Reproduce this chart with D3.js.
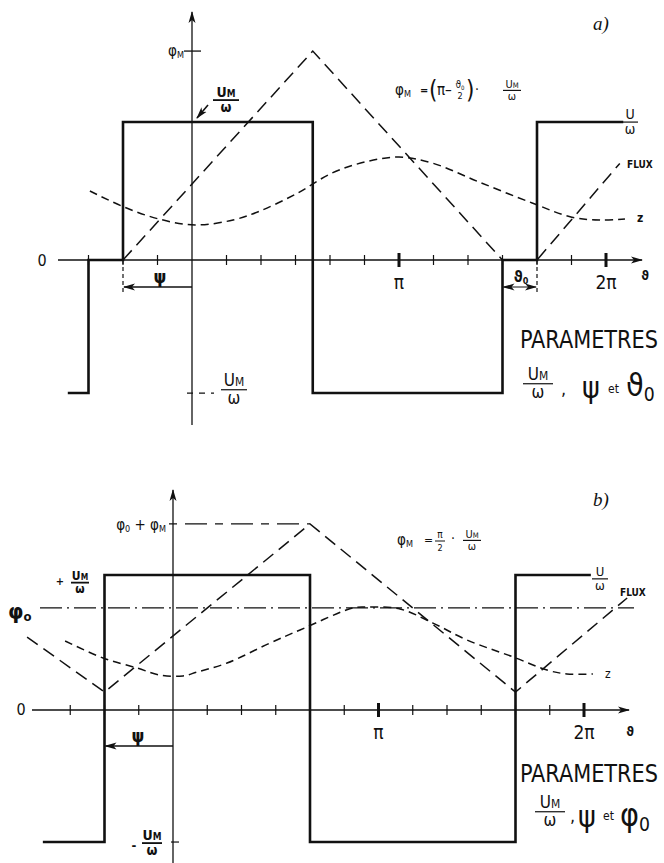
<!DOCTYPE html>
<html>
<head>
<meta charset="utf-8">
<script src="https://cdn.jsdelivr.net/npm/d3@7"></script>
<style>
  body { margin: 0; background: #fff; }
  text { font-family: "DejaVu Sans Condensed", "DejaVu Sans", sans-serif; fill: #111; }
  .serif { font-family: "Liberation Serif", serif; font-style: italic; }
</style>
</head>
<body>
<svg id="chart" width="664" height="863"></svg>
<script>
// theta is counted in steps of pi/6, values in units of Um/omega

// panel a)
var ticksA = [-3, -2, -1, 1, 2, 3, 4, 5, 6, 7, 8, 9, 10, 11, 12];
var bigTicks = [6, 12];
var bigTickLabels = ["π", "2π"];
var squareA = [[-3.6, -0.964], [-3, -0.964], [-3, 0], [-2, 0], [-2, 1], [3.5, 1], [3.5, -0.964],
               [9, -0.964], [9, 0], [10, 0], [10, 1], [12.5, 1]];
var fluxA = [[-2, 0], [3.5, 1.514], [9, 0], [10, 0], [12.4, 0.70]];
var zA = [[-2.96, 0.50], [-1.97, 0.384], [-0.96, 0.297], [0.09, 0.254], [1.19, 0.29], [1.97, 0.355],
          [3.01, 0.478], [4.06, 0.63], [5.01, 0.71], [6.0, 0.746], [6.96, 0.703], [8.32, 0.565],
          [9.86, 0.413], [11.01, 0.31], [11.83, 0.29], [12.55, 0.297]];
var phiMA = 1.514, lowA = -0.964;
var psiA = -2, theta0A = [9, 10];

// panel b)
var ticksB = [-3, -2, -1, 1, 2, 3, 4, 5, 6, 7, 8, 9, 10, 11, 12];
var squareB = [[-3.8, -0.978], [-2, -0.978], [-2, 1], [4, 1], [4, -0.978], [10, -0.978], [10, 1], [12.2, 1]];
var fluxB = [[-4.26, 0.54], [-2, 0.133], [4, 1.378], [10, 0.133], [13.26, 0.83]];
var zB = [[-3.15, 0.511], [-2.04, 0.385], [-1.05, 0.311], [-0.38, 0.259], [0.29, 0.252], [0.70, 0.281],
          [1.58, 0.348], [2.83, 0.496], [3.71, 0.593], [5.26, 0.756], [5.66, 0.763], [6.63, 0.748],
          [7.59, 0.644], [8.58, 0.519], [9.93, 0.393], [10.92, 0.296], [11.5, 0.267], [12.26, 0.267]];
var phi0B = 0.756, phiMaxB = 1.378, lowB = -0.978;
var psiB = -2;

var svg = d3.select("#chart");
var ink = "#111";

var defs = svg.append("defs");
defs.append("marker").attr("id", "head")
    .attr("viewBox", "0 0 12 8").attr("refX", 11).attr("refY", 4)
    .attr("markerWidth", 12).attr("markerHeight", 8).attr("markerUnits", "userSpaceOnUse")
    .attr("orient", "auto-start-reverse")
    .append("path").attr("d", "M0,0.5 L12,4 L0,7.5 L3,4 Z").attr("fill", ink);

function line(g, pts, x, y, width, dash) {
  var gen = d3.line().x(function(d) { return x(d[0]); }).y(function(d) { return y(d[1]); });
  return g.append("path").datum(pts).attr("d", gen)
      .attr("fill", "none").attr("stroke", ink).attr("stroke-width", width)
      .attr("stroke-linejoin", "miter").attr("stroke-dasharray", dash || null);
}

function curve(g, pts, x, y, dash) {
  var gen = d3.line().curve(d3.curveCatmullRom.alpha(0.5))
      .x(function(d) { return x(d[0]); }).y(function(d) { return y(d[1]); });
  return g.append("path").datum(pts).attr("d", gen)
      .attr("fill", "none").attr("stroke", ink).attr("stroke-width", 1.5)
      .attr("stroke-dasharray", dash);
}

function txt(g, x, y, s, size, opts) {
  opts = opts || {};
  var t = g.append("text").attr("x", x).attr("y", y)
      .attr("font-size", size).attr("text-anchor", opts.anchor || "start")
      .attr("font-weight", opts.bold ? "bold" : null).text(s);
  if (opts.cls) t.attr("class", opts.cls);
  return t;
}

// letter with a small subscript (phi_M, theta_0 ...)
function sub(g, x, y, main, small, size, opts) {
  opts = opts || {};
  var t = g.append("text").attr("x", x).attr("y", y).attr("font-size", size)
      .attr("text-anchor", opts.anchor || "start")
      .attr("font-weight", opts.bold ? "bold" : null);
  t.append("tspan").text(main);
  t.append("tspan").attr("font-size", size * 0.6).attr("dy", size * 0.15).text(small);
  return t;
}

// stacked fraction, cx = centre
function frac(g, cx, y, size, numMain, numSmall, den, opts) {
  opts = opts || {};
  var n = g.append("text").attr("x", cx).attr("y", y).attr("font-size", size)
      .attr("text-anchor", "middle").attr("font-weight", opts.bold ? "bold" : null);
  n.append("tspan").text(numMain);
  if (numSmall) n.append("tspan").attr("font-size", size * 0.7).text(numSmall);
  var w = opts.w || size * 1.4;
  g.append("line").attr("x1", cx - w / 2).attr("x2", cx + w / 2)
      .attr("y1", y + size * 0.22).attr("y2", y + size * 0.22)
      .attr("stroke", ink).attr("stroke-width", opts.bold ? 1.8 : 1.2);
  txt(g, cx, y + size * 1.05, den, size, { anchor: "middle", bold: opts.bold });
}

function axes(g, x, y, ticks, xStart, xEnd, yTop, yBottom) {
  // theta axis
  g.append("line").attr("x1", xStart).attr("x2", xEnd).attr("y1", y(0)).attr("y2", y(0))
      .attr("stroke", ink).attr("stroke-width", 1.3).attr("marker-end", "url(#head)");
  g.selectAll(".tick").data(ticks).enter().append("line")
      .attr("x1", function(d) { return x(d); }).attr("x2", function(d) { return x(d); })
      .attr("y1", function(d) { return y(0) - (bigTicks.indexOf(d) >= 0 ? 7 : 5); })
      .attr("y2", function(d) { return y(0) + (bigTicks.indexOf(d) >= 0 ? 7 : 5); })
      .attr("stroke", ink).attr("stroke-width", function(d) { return bigTicks.indexOf(d) >= 0 ? 3 : 1.2; });
  bigTicks.forEach(function(d, i) {
    txt(g, x(d), y(0) + 29, bigTickLabels[i], 19, { anchor: "middle" });
  });
  // vertical axis
  g.append("line").attr("x1", x(0)).attr("x2", x(0)).attr("y1", yBottom).attr("y2", yTop)
      .attr("stroke", ink).attr("stroke-width", 1.3).attr("marker-end", "url(#head)");
}

// ---------------- panel a ----------------
var xA = d3.scaleLinear().domain([0, 12]).range([192, 606]);
var yA = d3.scaleLinear().domain([0, 1]).range([260, 122]);
var gA = svg.append("g");

axes(gA, xA, yA, ticksA, 58, 642, 12, 425);
txt(gA, 42, 266, "0", 16, { anchor: "middle" });
txt(gA, 645, 280, "ϑ", 13, { anchor: "middle", bold: true });

line(gA, squareA, xA, yA, 2.6);
line(gA, fluxA, xA, yA, 1.5, "13,7");
curve(gA, zA, xA, yA, "8,5");

// phi_M tick
gA.append("line").attr("x1", xA(0) - 8).attr("x2", xA(0) + 9)
    .attr("y1", yA(phiMA)).attr("y2", yA(phiMA)).attr("stroke", ink).attr("stroke-width", 1.3);
sub(gA, 184, yA(phiMA) + 5, "φ", "M", 15, { anchor: "end" });

// Um/omega with arrow
frac(gA, 226, 97, 14, "U", "M", "ω", { bold: true, w: 26 });
gA.append("line").attr("x1", 208).attr("y1", 105).attr("x2", 197).attr("y2", 118)
    .attr("stroke", ink).attr("stroke-width", 1.6).attr("marker-end", "url(#head)");

// -Um/omega
gA.append("line").attr("x1", 187).attr("x2", 214).attr("y1", yA(lowA)).attr("y2", yA(lowA))
    .attr("stroke", ink).attr("stroke-width", 1.2).attr("stroke-dasharray", "6,6");
frac(gA, 234, 386, 17, "U", "M", "ω", { w: 26 });

// psi marker
gA.append("line").attr("x1", xA(psiA)).attr("x2", xA(psiA)).attr("y1", yA(0)).attr("y2", yA(0) + 33)
    .attr("stroke", ink).attr("stroke-width", 1.2).attr("stroke-dasharray", "4,3");
gA.append("line").attr("x1", xA(0)).attr("x2", xA(psiA) + 1).attr("y1", 287).attr("y2", 287)
    .attr("stroke", ink).attr("stroke-width", 1.3).attr("marker-end", "url(#head)");
txt(gA, 160, 283, "ψ", 18, { anchor: "middle", bold: true });

// theta_0 marker
gA.append("line").attr("x1", xA(theta0A[1])).attr("x2", xA(theta0A[1])).attr("y1", yA(0)).attr("y2", yA(0) + 33)
    .attr("stroke", ink).attr("stroke-width", 1.2).attr("stroke-dasharray", "4,3");
gA.append("line").attr("x1", xA(theta0A[0]) + 1).attr("x2", xA(theta0A[1]) - 1).attr("y1", 287).attr("y2", 287)
    .attr("stroke", ink).attr("stroke-width", 1.2)
    .attr("marker-start", "url(#head)").attr("marker-end", "url(#head)");
sub(gA, 521, 282, "ϑ", "0", 15, { anchor: "middle", bold: true });

txt(gA, 593, 30, "a)", 19, { cls: "serif" });

// formula a
sub(gA, 395, 95, "φ", "M", 15);
txt(gA, 420, 94, "=", 11, { bold: true });
txt(gA, 429, 98, "(", 24);
txt(gA, 437, 95, "π–", 15);
sub(gA, 460, 88, "ϑ", "0", 10, { anchor: "middle" });
txt(gA, 460, 99, "2", 9, { anchor: "middle" });
txt(gA, 466, 98, ")", 24);
txt(gA, 475, 94, "·", 14);
frac(gA, 512, 88, 11, "U", "M", "ω", { w: 18 });

// right labels
frac(gA, 630, 119, 14, "U", "", "ω", { w: 16 });
txt(gA, 627, 168, "FLUX", 10, { bold: true });
txt(gA, 637, 222, "z", 12, { bold: true });

// parameters a
txt(gA, 520, 348, "PARAMETRES", 24).attr("textLength", 138).attr("lengthAdjust", "spacingAndGlyphs");
frac(gA, 538, 380, 17, "U", "M", "ω", { w: 30 });
txt(gA, 561, 395, ",", 18);
txt(gA, 582, 398, "ψ", 30);
txt(gA, 608, 393, "et", 12);
sub(gA, 626, 396, "ϑ", "0", 32);

// ---------------- panel b ----------------
var xB = d3.scaleLinear().domain([0, 12]).range([173, 584]);
var yB = d3.scaleLinear().domain([0, 1]).range([710, 575]);
var gB = svg.append("g");

axes(gB, xB, yB, ticksB, 32, 629, 490, 863);
txt(gB, 21, 715, "0", 16, { anchor: "middle" });
txt(gB, 630, 736, "ϑ", 13, { anchor: "middle", bold: true });

// dash-dot levels
gB.append("line").attr("x1", 40).attr("x2", 634).attr("y1", yB(phi0B)).attr("y2", yB(phi0B))
    .attr("stroke", ink).attr("stroke-width", 1.2).attr("stroke-dasharray", "22,5,2,5");
gB.append("line").attr("x1", xB(0) - 4).attr("x2", xB(4)).attr("y1", yB(phiMaxB)).attr("y2", yB(phiMaxB))
    .attr("stroke", ink).attr("stroke-width", 1.2).attr("stroke-dasharray", "8,8,22,8");

line(gB, squareB, xB, yB, 2.6);
line(gB, fluxB, xB, yB, 1.5, "13,7");
curve(gB, zB, xB, yB, "8,5");

var lbl = sub(gB, 166, 530, "φ", "0", 15, { anchor: "end" });
lbl.append("tspan").attr("dy", -2).text(" + φ");
lbl.append("tspan").attr("font-size", 9).attr("dy", 2).text("M");

txt(gB, 8, 619, "φ", 22, { bold: true }).append("tspan").attr("font-size", 13).attr("dy", 2).text("o");

txt(gB, 60, 585, "+", 11, { anchor: "middle", bold: true });
frac(gB, 80, 580, 12, "U", "M", "ω", { bold: true, w: 18 });

// -Um/omega
gB.append("line").attr("x1", xB(0) - 2).attr("x2", xB(0) + 6).attr("y1", yB(lowB)).attr("y2", yB(lowB))
    .attr("stroke", ink).attr("stroke-width", 1.2);
txt(gB, 134, 850, "-", 13, { anchor: "middle", bold: true });
frac(gB, 152, 840, 14, "U", "M", "ω", { bold: true, w: 20 });

// psi
gB.append("line").attr("x1", xB(0)).attr("x2", xB(psiB) + 1).attr("y1", 746).attr("y2", 746)
    .attr("stroke", ink).attr("stroke-width", 1.3).attr("marker-end", "url(#head)");
txt(gB, 138, 742, "ψ", 18, { anchor: "middle", bold: true });

txt(gB, 593, 506, "b)", 19, { cls: "serif" });

// formula b
sub(gB, 397, 545, "φ", "M", 15);
txt(gB, 424, 544, "=", 12);
txt(gB, 440, 538, "π", 10, { anchor: "middle" });
gB.append("line").attr("x1", 435).attr("x2", 445).attr("y1", 541).attr("y2", 541).attr("stroke", ink);
txt(gB, 440, 551, "2", 9, { anchor: "middle" });
txt(gB, 451, 543, "·", 14);
frac(gB, 472, 538, 11, "U", "M", "ω", { w: 18 });

frac(gB, 600, 576, 13, "U", "", "ω", { w: 16 });
txt(gB, 620, 596, "FLUX", 10, { bold: true });
txt(gB, 605, 678, "z", 12);

txt(gB, 520, 782, "PARAMETRES", 24).attr("textLength", 138).attr("lengthAdjust", "spacingAndGlyphs");
frac(gB, 550, 808, 17, "U", "M", "ω", { w: 30 });
txt(gB, 570, 822, ",", 18);
txt(gB, 578, 827, "ψ", 30);
txt(gB, 603, 820, "et", 12);
sub(gB, 620, 826, "φ", "0", 32);
</script>
</body>
</html>
